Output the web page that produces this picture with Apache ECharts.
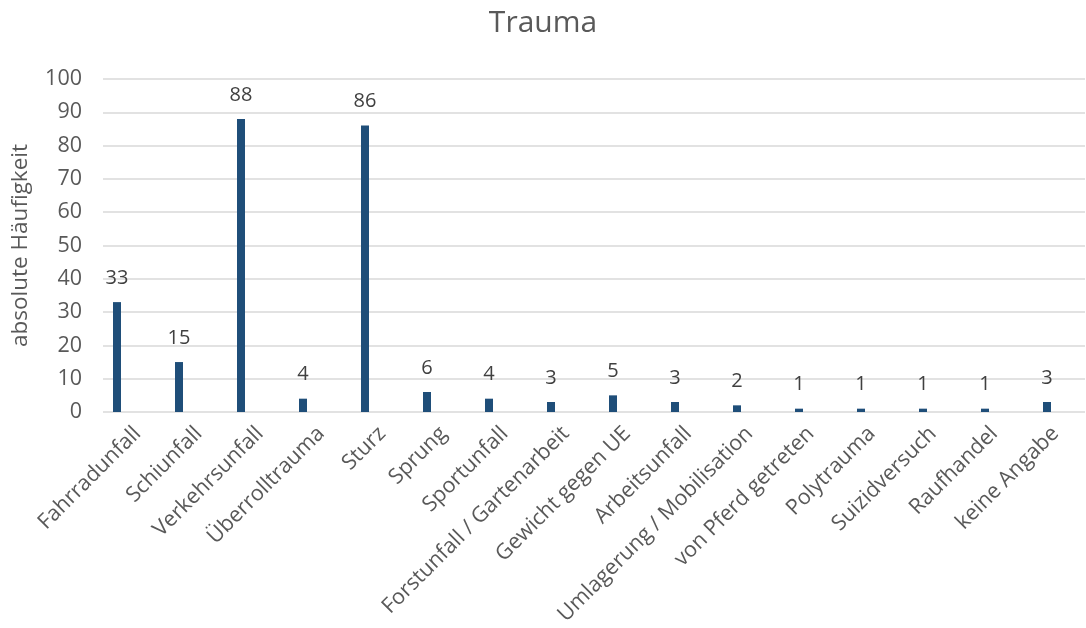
<!DOCTYPE html>
<html><head><meta charset="utf-8">
<script src="https://cdn.jsdelivr.net/npm/echarts@6/dist/echarts.min.js"></script>
<style>html,body{margin:0;padding:0;background:#fff}#c{width:1086px;height:628px}</style>
</head><body><div id="c"></div>
<script>
const categories = ["Fahrradunfall","Schiunfall","Verkehrsunfall","Überrolltrauma","Sturz","Sprung","Sportunfall","Forstunfall / Gartenarbeit","Gewicht gegen UE","Arbeitsunfall","Umlagerung / Mobilisation","von Pferd getreten","Polytrauma","Suizidversuch","Raufhandel","keine Angabe"];
const values = [33,15,88,4,86,6,4,3,5,3,2,1,1,1,1,3];
const yTicks = {min:0,max:100,interval:10};
const FONT = "'Open Sans', 'Noto Sans', sans-serif";
const chart = echarts.init(document.getElementById('c'), null, {renderer:'canvas'});
chart.setOption({
  animation:false,
  title:{text:'Trauma',left:'center',top:3,textStyle:{fontFamily:FONT,fontSize:30,fontWeight:'normal',color:'#595959'}},
  grid:[
    {left:86,right:8,top:79,bottom:216,containLabel:false},
    {left:103,right:1,top:79,bottom:216,containLabel:false},
    {left:107,right:-13,top:79,bottom:216,containLabel:false}
  ],
  xAxis:[
    {gridIndex:0,type:'category',data:categories,boundaryGap:true,
     axisLine:{show:false},axisTick:{show:false},axisLabel:{show:false}},
    {gridIndex:1,type:'value',show:false,min:0,max:1},
    {gridIndex:2,type:'category',data:categories,boundaryGap:true,
     axisLine:{show:false},axisTick:{show:false},splitLine:{show:false},
     axisLabel:{interval:0,rotate:45,fontFamily:FONT,fontSize:21.5,color:'#595959',margin:33}}
  ],
  yAxis:[
    {gridIndex:0,type:'value',min:yTicks.min,max:yTicks.max,interval:yTicks.interval,show:false,splitLine:{show:false}},
    {gridIndex:1,type:'value',min:yTicks.min,max:yTicks.max,interval:yTicks.interval,
     name:'absolute Häufigkeit',nameLocation:'middle',nameRotate:90,nameGap:71,
     nameTextStyle:{fontFamily:FONT,fontSize:22.5,color:'#595959'},
     axisLine:{show:false},axisTick:{show:false},
     axisLabel:{fontFamily:FONT,fontSize:21.5,color:'#595959',margin:21},
     splitLine:{lineStyle:{color:'#d9d9d9',width:1.5}}},
    {gridIndex:2,type:'value',show:false,min:0,max:1}
  ],
  series:[{
    type:'bar',xAxisIndex:0,yAxisIndex:0,data:values,barWidth:8,
    itemStyle:{color:'#1F4E79'},
    label:{show:true,position:'top',distance:14,fontFamily:FONT,fontSize:20,color:'#404040'}
  }]
});
</script></body></html>
